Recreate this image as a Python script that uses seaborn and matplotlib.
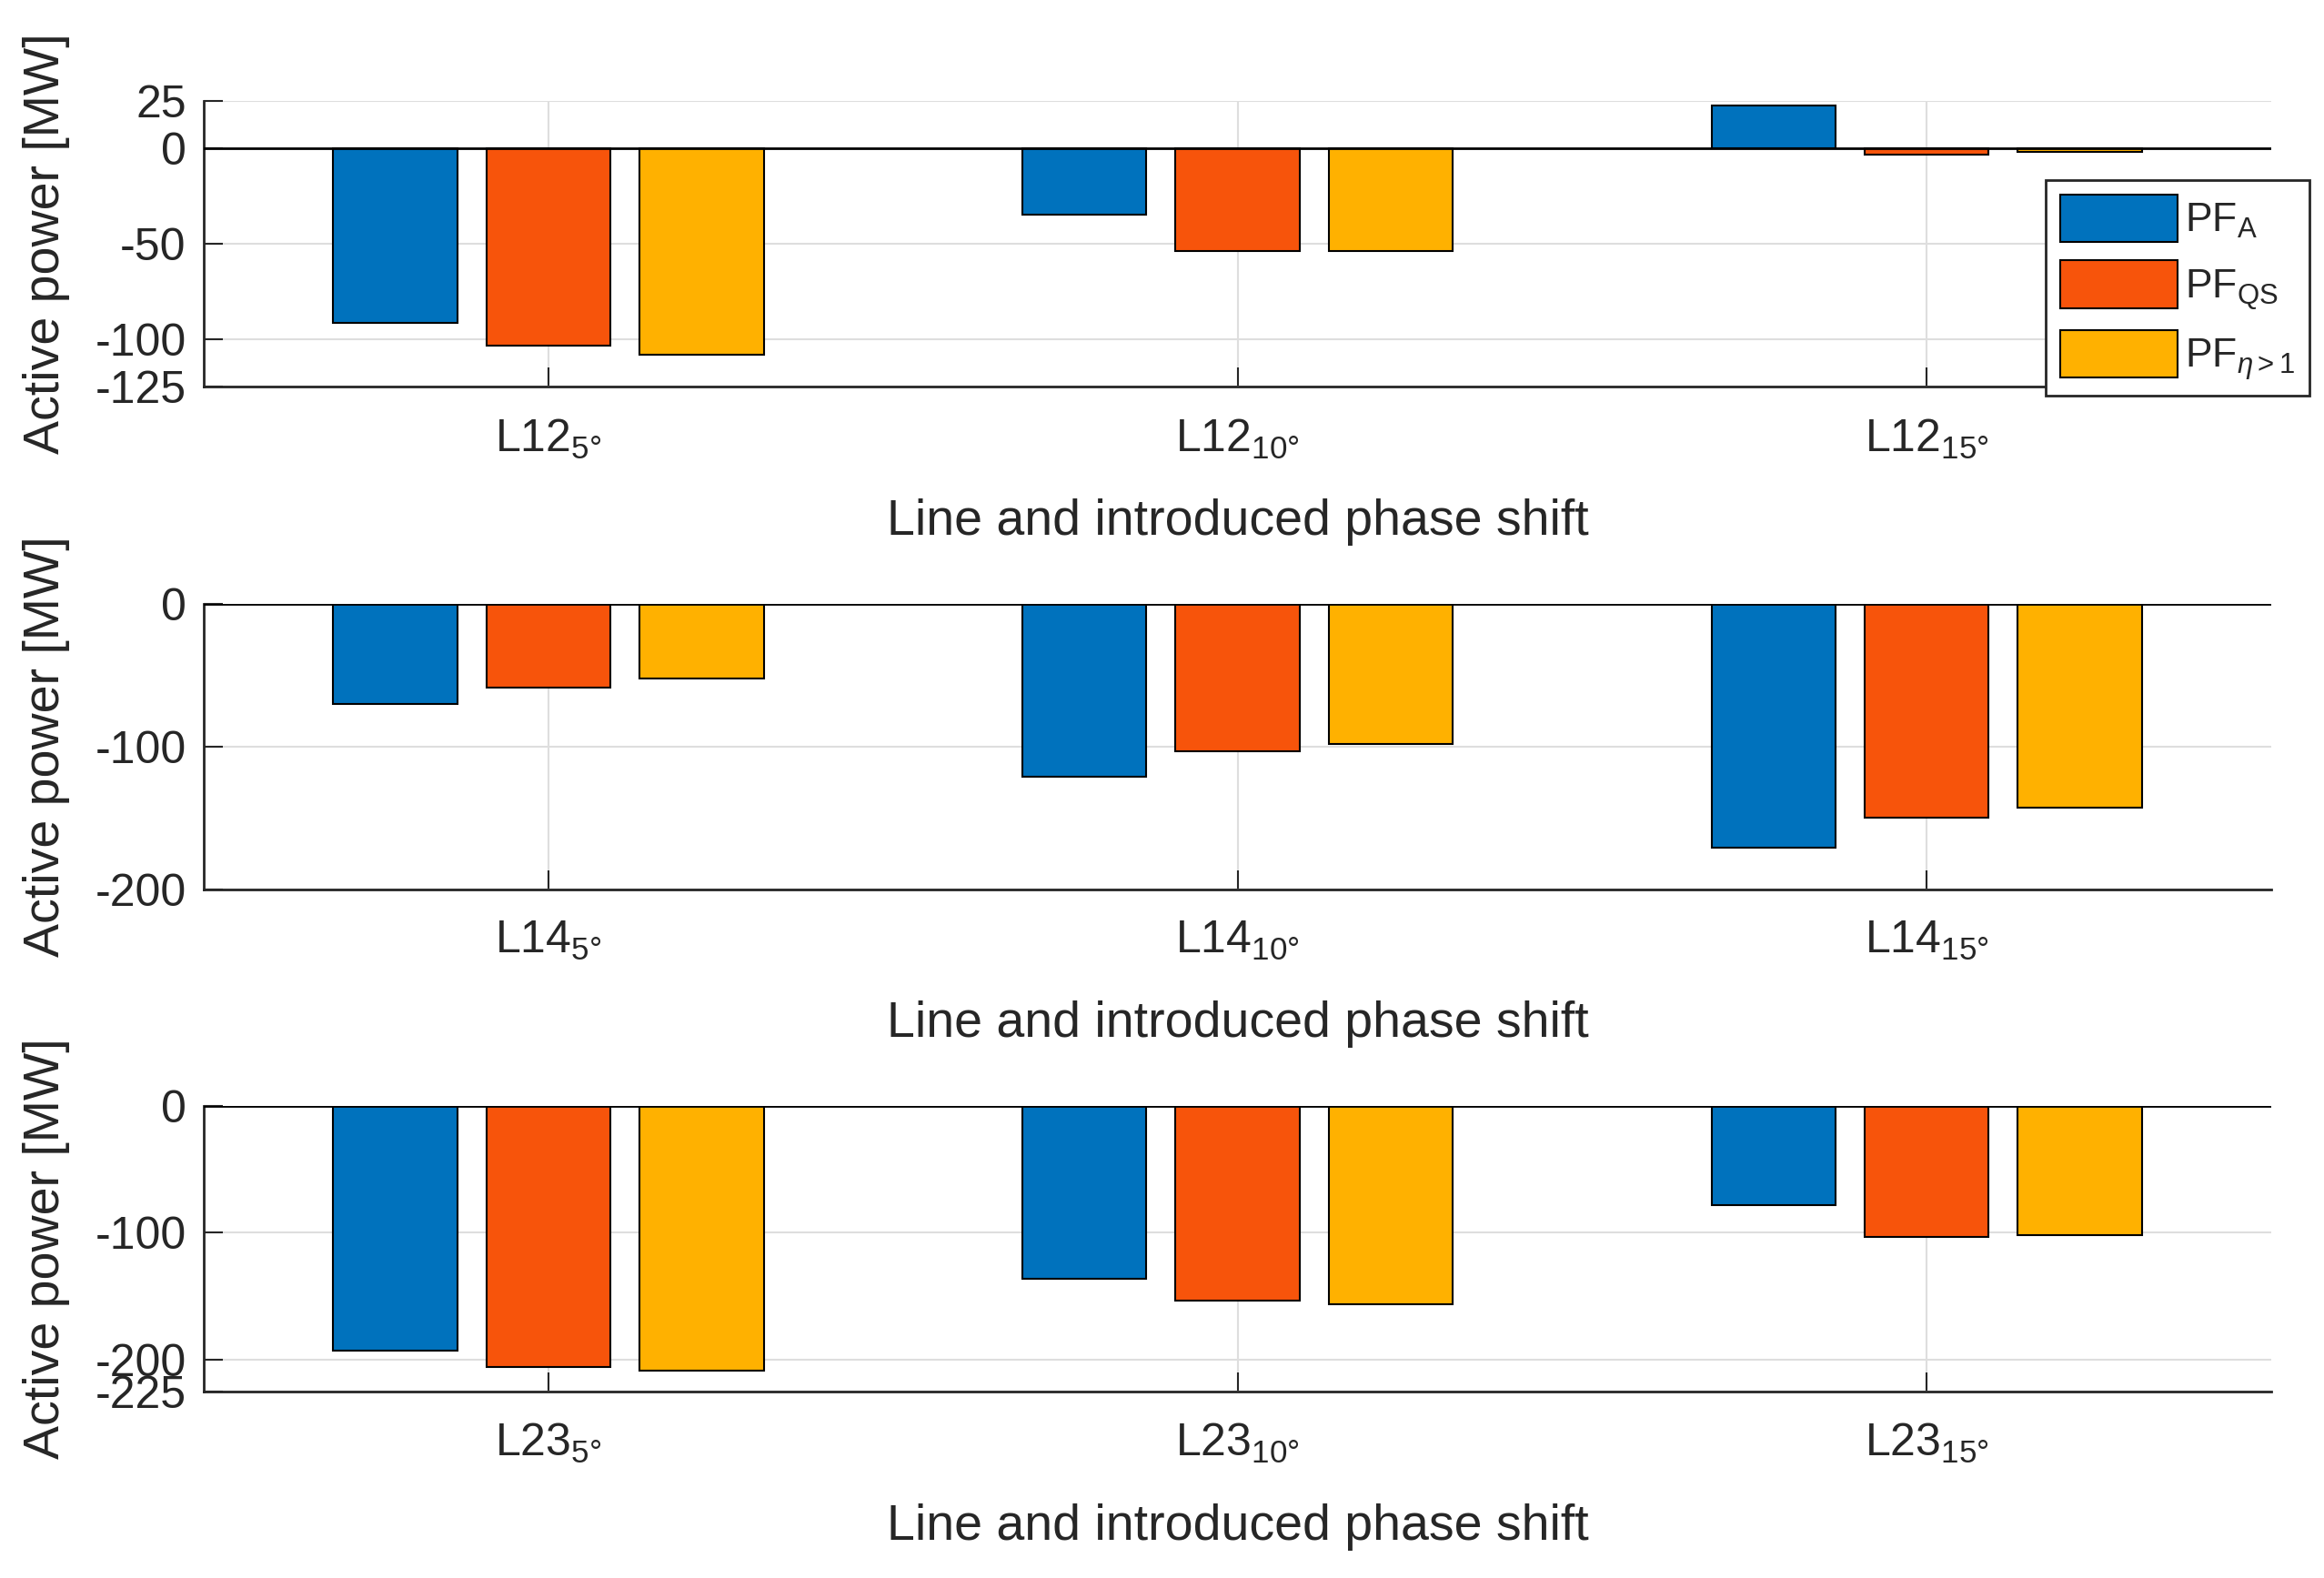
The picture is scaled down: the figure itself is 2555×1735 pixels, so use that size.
import numpy as np
import pandas as pd
import seaborn as sns
import matplotlib.pyplot as plt
from matplotlib.patches import Patch

# data (MW)
lines = ['L12', 'L14', 'L23']
shifts = ['5°', '10°', '15°']
methods = ['PF_A', 'PF_QS', 'PF_eta']
method_labels = [r'PF$_{\mathregular{A}}$', r'PF$_{\mathregular{QS}}$', r'PF$_{\eta\mathregular{>1}}$']

pf_a_l12 = [-91.4, -34.8, 22.7]
pf_qs_l12 = [-103.6, -53.8, -3.0]
pf_eta_l12 = [-108.3, -53.9, -1.5]

pf_a_l14 = [-70.0, -121.0, -170.5]
pf_qs_l14 = [-58.8, -103.0, -149.7]
pf_eta_l14 = [-52.2, -98.0, -142.9]

pf_a_l23 = [-192.5, -136.0, -78.4]
pf_qs_l23 = [-205.5, -153.7, -103.4]
pf_eta_l23 = [-208.7, -156.3, -102.0]

series = {
    'L12': [pf_a_l12, pf_qs_l12, pf_eta_l12],
    'L14': [pf_a_l14, pf_qs_l14, pf_eta_l14],
    'L23': [pf_a_l23, pf_qs_l23, pf_eta_l23],
}
ylims = {'L12': (-125, 25), 'L14': (-200, 0), 'L23': (-225, 0)}
yticks = {'L12': [-125, -100, -50, 0, 25], 'L14': [-200, -100, 0], 'L23': [-225, -200, -100, 0]}

colors = ['#0072BD', '#F7540B', '#FFB100']
txt = '#262626'

sns.set_style('ticks')
plt.rcParams['font.family'] = ['Liberation Sans', 'DejaVu Sans']
plt.rcParams['mathtext.fontset'] = 'custom'
plt.rcParams['mathtext.rm'] = 'Liberation Sans'
plt.rcParams['mathtext.it'] = 'Liberation Sans:italic'
plt.rcParams['axes.unicode_minus'] = False

fig = plt.figure(figsize=(25.55, 17.35), dpi=100)
bottoms = [0.755, 0.4363, 0.1182]

for i, ln in enumerate(lines):
    ax = fig.add_axes([0.0877, bottoms[i], 0.8896, 0.181])
    ticklabels = [ln + r'$_{\mathregular{' + s + '}}$' for s in shifts]
    df = pd.DataFrame({
        'label': ticklabels * 3,
        'method': np.repeat(methods, 3),
        'power': sum(series[ln], []),
    })
    sns.barplot(data=df, x='label', y='power', hue='method', order=ticklabels,
                hue_order=methods, palette=colors, width=0.667, gap=0.19,
                edgecolor='black', linewidth=1.5, errorbar=None, legend=False,
                saturation=1, ax=ax, zorder=3)
    ax.set_xlim(-0.5, 2.5)
    ax.set_ylim(*ylims[ln])
    ax.set_yticks(yticks[ln])
    ax.grid(True, color='#dedede', linewidth=1.5)
    ax.set_axisbelow(True)
    ax.axhline(0, color='black', lw=2, zorder=4)
    for side in ['top', 'right']:
        ax.spines[side].set_visible(False)
    for side in ['left', 'bottom']:
        ax.spines[side].set_color(txt)
        ax.spines[side].set_linewidth(2)
    ax.tick_params(direction='in', length=15, width=1.5, labelsize=36, colors=txt)
    ax.tick_params(axis='y', pad=14)
    ax.tick_params(axis='x', pad=24)
    ax.set_xlabel('Line and introduced phase shift', fontsize=40, color=txt, labelpad=30)
    ax.set_ylabel('Active power [MW]', fontsize=40, color=txt)
    ax.yaxis.set_label_coords(-0.0647, 0.5)

    if i == 0:
        handles = [Patch(facecolor=c, edgecolor='black', linewidth=1.5) for c in colors]
        leg = ax.legend(handles, method_labels, loc='upper right',
                        bbox_to_anchor=(0.9937, 0.8859), bbox_transform=fig.transFigure,
                        fontsize=32, handlelength=2.9, handleheight=1.45,
                        labelspacing=0.45, handletextpad=0.2, borderpad=0.35,
                        borderaxespad=0, fancybox=False, framealpha=1)
        leg.get_frame().set_edgecolor(txt)
        leg.get_frame().set_linewidth(2)
        leg.set_zorder(10)

fig.savefig('out.png', dpi=100)
